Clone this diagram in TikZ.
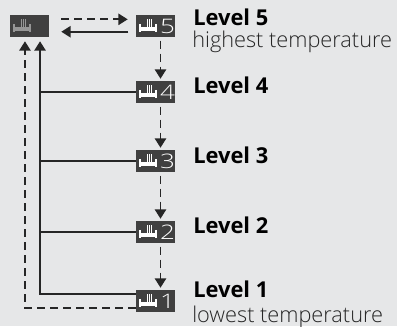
\documentclass[tikz,border=0pt]{standalone}
\usepackage{fontspec}
\setmainfont{Open Sans}
\newfontfamily\lightfont{Open Sans Light}
\usetikzlibrary{arrows.meta}
\definecolor{pagegray}{HTML}{E6E7E8}
\definecolor{panelgray}{HTML}{404040}
\definecolor{linegray}{HTML}{262626}
\tikzset{
  panel/.style={fill=panelgray, minimum width=29.25pt, minimum height=16.5pt, inner sep=0pt},
  digit/.style={text=white, inner sep=0pt, font=\fontsize{15}{15}\selectfont\lightfont},
  level/.style={anchor=base west, inner sep=0pt, font=\fontsize{16.4}{17}\selectfont\bfseries},
  note/.style={anchor=base west, inner sep=0pt, text=black!85, font=\fontsize{16.3}{17}\selectfont\lightfont},
  flow/.style={draw=linegray, line width=1.4pt},
  dashflow/.style={flow, dash pattern=on 6pt off 3.75pt},
  tip/.style={-{Triangle[length=7pt,width=8.4pt]}},
}
\newcommand{\heater}[2]{%
  \fill[#2] ([xshift=-12.4pt,yshift=1.5pt]#1.center) rectangle ([xshift=-11pt,yshift=-4.5pt]#1.center);
  \fill[#2] ([xshift=-0.3pt,yshift=1.5pt]#1.center) rectangle ([xshift=1.1pt,yshift=-4.5pt]#1.center);
  \fill[#2] ([xshift=-12.4pt,yshift=-0.5pt]#1.center) rectangle ([xshift=1.1pt,yshift=-3.5pt]#1.center);
  \foreach \dx in {-6.2,-4.6,-3}
    \draw[#2, line width=0.5pt] ([xshift=\dx pt,yshift=5pt]#1.center) -- ([xshift=\dx pt,yshift=-1pt]#1.center);
}
\begin{document}
\begin{tikzpicture}[x=0.75pt, y=-0.75pt]
  \useasboundingbox [fill=pagegray] (0,0) rectangle (397,326);
  \node (base) at (29.5,26) [panel] {};
  \node (five) at (155.5,26) [panel] {};
  \node (four) at (155.5,92) [panel] {};
  \node (three) at (155.5,161) [panel] {};
  \node (two) at (155.5,232) [panel] {};
  \node (one) at (155.5,301) [panel] {};
  \coordinate (bus) at ([xshift=7.9pt, yshift=-3pt]base.south);
  \coordinate (ret) at ([xshift=-3.4pt, yshift=-3pt]base.south);
  \heater{base}{white!45!panelgray}
  \foreach \panel/\val in {five/5, four/4, three/3, two/2, one/1} {
    \heater{\panel}{white}
    \node (d\val) at ([xshift=9pt]\panel.center) [digit] {\scalebox{1.3}[1]{\val}};
  }
  % top pair
  \draw[dashflow, tip] ([yshift=5pt, xshift=9pt]base.east) -- ([yshift=5pt, xshift=-6pt]five.west);
  \draw[flow, tip] ([yshift=-4.3pt, xshift=-5.5pt]five.west) -- ([yshift=-4.3pt, xshift=9pt]base.east);
  % going down
  \foreach \source/\dest in {five/four, four/three, three/two, two/one}
    \draw[dashflow, tip] ([xshift=3.75pt, yshift=-2.5pt]\source.south) -- ([xshift=3.75pt, yshift=1.5pt]\dest.north);
  % back up
  \draw[flow, tip] ([yshift=5.2pt]one.west) -| (bus);
  \foreach \source in {four, three, two}
    \draw[flow] (\source.west) -- (\source.west -| bus);
  \draw[dashflow, tip] ([yshift=-5.2pt]one.west) -| (ret);
  % labels
  \node (l5) at (193,25) [level] {Level 5};
  \node (n5) at (192,47) [note] {highest temperature};
  \node (l4) at (193,93) [level] {Level 4};
  \node (l3) at (193,163) [level] {Level 3};
  \node (l2) at (193,233) [level] {Level 2};
  \node (l1) at (193,297) [level] {Level 1};
  \node (n1) at (192,322) [note] {lowest temperature};
\end{tikzpicture}
\end{document}
